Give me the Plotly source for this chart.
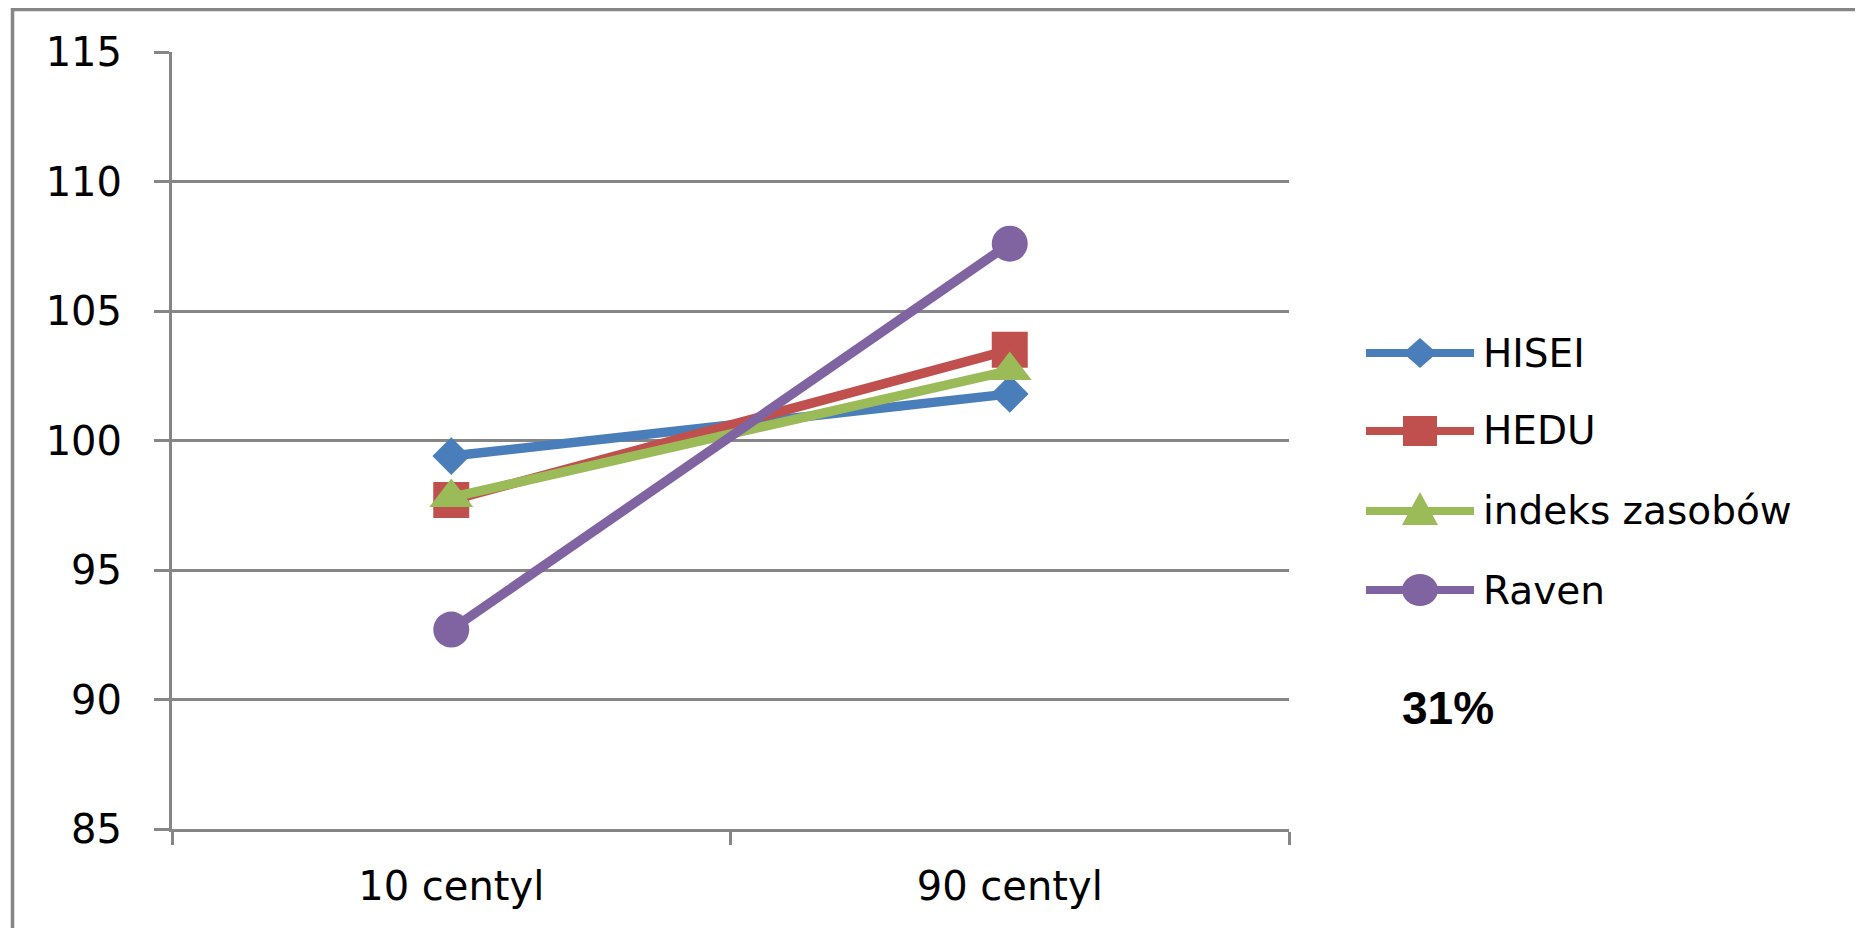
import plotly.graph_objects as go

categories = ["10 centyl", "90 centyl"]
series_names = ["HISEI", "HEDU", "indeks zasobów", "Raven"]
hisei = [99.4, 101.8]
hedu = [97.7, 103.5]
indeks = [97.8, 102.7]
raven = [92.7, 107.6]
y_ticks = [85, 90, 95, 100, 105, 110, 115]
note_text = "31%"

colors = ["#4A7EBB", "#C0504D", "#9BBB59", "#8064A2"]
symbols = ["diamond", "square", "triangle-up", "circle"]
sizes = [29, 36, 38, 36]
values = [hisei, hedu, indeks, raven]

OFF = 8  # default body margin of the page
W, H = 1855, 920
# plot area in page pixel coords
L, R, T, B = 172, 1289, 52, 829
GREY = "#868686"
FONT = "DejaVu Sans"


def px(x, y):
    return (x - L) / (R - L), (B - y) / (B - T)


fig = go.Figure()
for name, vals, col, sym, sz in zip(series_names, values, colors, symbols, sizes):
    fig.add_trace(go.Scatter(
        x=categories, y=vals, name=name, mode="lines+markers",
        line=dict(color=col, width=9.5),
        marker=dict(symbol=sym, size=sz, color=col, line=dict(width=0)),
        showlegend=False,
    ))

shapes = []
annotations = []
# outer border
x0, y0 = px(12.5, 9.5)
x1, y1 = px(1860.5, 980)
shapes.append(dict(type="rect", xref="paper", yref="paper", x0=x0, y0=y1, x1=x1, y1=y0,
                   line=dict(color=GREY, width=3.5), layer="below"))

# custom legend
row_y = [353, 431, 511, 590]
lx0, lx1, mx = 1366, 1474, 1420
for i, (name, col) in enumerate(zip(series_names, colors)):
    yy = row_y[i]
    a0, b0 = px(lx0, yy)
    a1, _ = px(lx1, yy)
    shapes.append(dict(type="line", xref="paper", yref="paper", x0=a0, y0=b0, x1=a1, y1=b0,
                       line=dict(color=col, width=8)))
    if i == 0:
        pts = [(mx - 17, yy), (mx, yy - 15), (mx + 17, yy), (mx, yy + 15)]
    elif i == 1:
        pts = [(mx - 17, yy - 15), (mx + 17, yy - 15), (mx + 17, yy + 15), (mx - 17, yy + 15)]
    elif i == 2:
        pts = [(mx, yy - 19), (mx + 18, yy + 14), (mx - 18, yy + 14)]
    else:
        pts = None
    if pts:
        path = "M " + " L ".join("%f,%f" % px(p[0], p[1]) for p in pts) + " Z"
        shapes.append(dict(type="path", xref="paper", yref="paper", path=path,
                           fillcolor=col, line=dict(width=0)))
    else:
        c0x, c0y = px(mx - 18, yy - 16)
        c1x, c1y = px(mx + 18, yy + 16)
        shapes.append(dict(type="circle", xref="paper", yref="paper", x0=c0x, y0=c1y, x1=c1x, y1=c0y,
                           fillcolor=col, line=dict(width=0)))
    tx, ty = px(1481, yy)
    annotations.append(dict(text=name, xref="paper", yref="paper", x=tx, y=ty,
                            xanchor="left", yanchor="middle", showarrow=False,
                            font=dict(family=FONT, size=39, color="black")))

nx, ny = px(1448, 708)
annotations.append(dict(text="<b>%s</b>" % note_text, xref="paper", yref="paper", x=nx, y=ny,
                        xanchor="center", yanchor="middle", showarrow=False,
                        font=dict(family="Liberation Sans", size=46, color="black")))

fig.update_layout(
    width=W, height=H,
    margin=dict(l=L - OFF, r=W - (R - OFF), t=T - OFF, b=H - (B - OFF), pad=0),
    paper_bgcolor="white", plot_bgcolor="white",
    font=dict(family=FONT, size=40, color="black"),
    shapes=shapes, annotations=annotations,
    showlegend=False,
)
fig.update_xaxes(
    type="category", categoryorder="array", categoryarray=categories,
    range=[-0.5, 1.5], tickson="boundaries", ticks="outside", ticklen=13,
    tickwidth=3, tickcolor=GREY, showline=True, linecolor=GREY, linewidth=3,
    showgrid=False, zeroline=False, ticklabelstandoff=20,
    tickfont=dict(family=FONT, size=40, color="black"),
)
fig.update_yaxes(
    range=[85, 115], tickvals=y_ticks, ticks="outside", ticklen=15,
    tickwidth=3, tickcolor=GREY, showline=True, linecolor=GREY, linewidth=3,
    showgrid=True, gridcolor=GREY, gridwidth=3, zeroline=False,
    ticklabelstandoff=24,
    tickfont=dict(family=FONT, size=40, color="black"),
)

fig.write_html("out.html")
